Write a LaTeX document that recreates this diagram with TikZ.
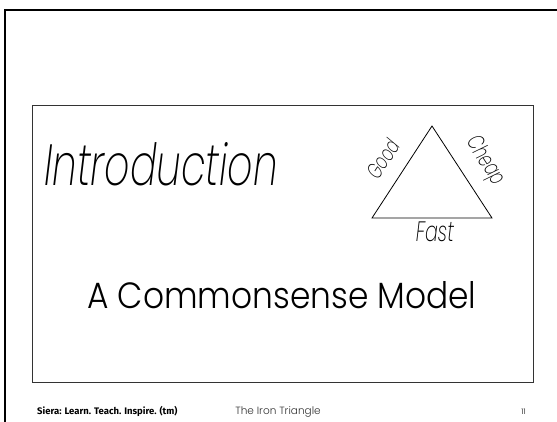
\documentclass[tikz,border=0pt]{standalone}
\usepackage{fontspec}
\setmainfont{Poppins Light}
\newfontfamily\handfont{Poppins ExtraLight Italic}[FakeStretch=0.68]
\newfontfamily\footfont{Fira Sans Bold}

\begin{document}
\begin{tikzpicture}[x=1pt,y=1pt]
\useasboundingbox (0,0) rectangle (557,-422);
% page edge
\draw[line width=2.5pt] (5,-430) -- (5,-10) -- (565,-10);
% slide frame
\draw[line width=1pt, black!80] (32,-106) rectangle (533,-382);
% the triangle
\coordinate (apex) at (432,-126);
\coordinate (bl) at (372,-218);
\coordinate (br) at (492,-218);
\draw[line width=0.8pt] (bl) -- (apex) -- (br) -- cycle;
\node[font=\handfont\fontsize{22}{22}\selectfont, rotate=57] (good) at (383,-159) {Good};
\node[font=\handfont\fontsize{23}{23}\selectfont, rotate=-57] (cheap) at (485,-161) {Cheap};
\node[font=\handfont\fontsize{28}{28}\selectfont, anchor=base] (fast) at (435,-242) {Fast};
\node[font=\handfont\fontsize{58}{58}\selectfont, anchor=base] (intro) at (161,-186) {Introduction};
\node[font=\fontsize{36.5}{37}\selectfont, xscale=0.9, anchor=base] (model) at (282,-308) {A Commonsense Model};
% footer
\node[font=\footfont\fontsize{9.5}{10}\selectfont, anchor=base west, inner sep=0pt] (brand) at (37,-414) {Siera: Learn. Teach. Inspire. (tm)};
\node[font=\fontsize{10.5}{11}\selectfont, text=black!80, anchor=base, inner sep=0pt] (topic) at (278,-414) {The Iron Triangle};
\node[font=\fontsize{7.5}{8}\selectfont, anchor=base east, inner sep=0pt] (page) at (526,-414) {11};
\end{tikzpicture}
\end{document}
